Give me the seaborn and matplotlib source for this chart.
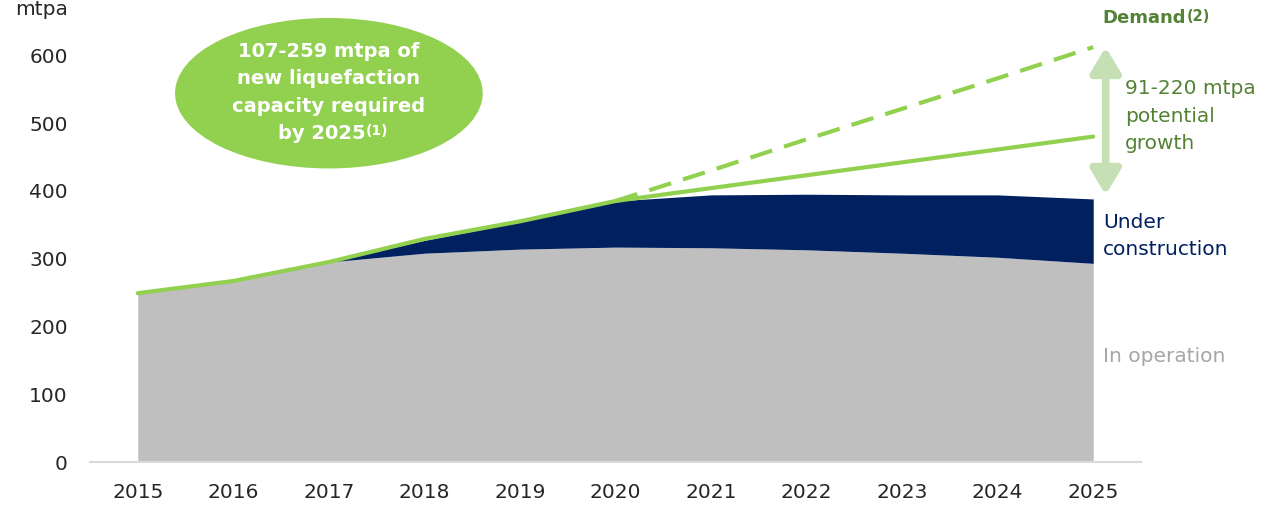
import numpy as np
import pandas as pd
import seaborn as sns
import matplotlib
matplotlib.use("Agg")
import matplotlib.pyplot as plt
from matplotlib.patches import Ellipse

# Global LNG liquefaction capacity vs. demand, mtpa
years = [2015, 2016, 2017, 2018, 2019, 2020, 2021, 2022, 2023, 2024, 2025]
in_operation = [249, 267, 295, 308, 314, 317, 316, 313, 308, 302, 293]
under_construction = [0, 0, 0, 19, 40, 68, 78, 82, 86, 92, 95]
demand_low = [249, 267, 295, 329, 355, 385, 404, 423, 442, 461, 480]
demand_high_years = [2020, 2021, 2022, 2023, 2024, 2025]
demand_high = [385, 430, 476, 521, 566, 612]
y_ticks = [0, 100, 200, 300, 400, 500, 600]

GREEN = "#92d050"
DARK_GREEN = "#548235"
NAVY = "#002060"
GREY = "#bfbfbf"

sns.set_theme(style="white")
plt.rcParams["font.family"] = ["DejaVu Sans"]

fig = plt.figure(figsize=(12.74, 5.09), dpi=100)
ax = fig.add_axes([90 / 1274, 47 / 509, 1051 / 1274, 461 / 509])

df = pd.DataFrame({"year": years, "operation": in_operation,
                   "construction": under_construction, "demand": demand_low})
df["total"] = df["operation"] + df["construction"]
high = pd.DataFrame({"year": demand_high_years, "demand": demand_high})

ax.fill_between(df["year"], 0, df["operation"], color=GREY, lw=0, zorder=1)
ax.fill_between(df["year"], df["operation"], df["total"], color=NAVY, lw=0, zorder=1)

sns.lineplot(data=high, x="year", y="demand", ax=ax, color=GREEN, lw=3,
             linestyle=(0, (5.5, 3)), zorder=3)
sns.lineplot(data=df, x="year", y="demand", ax=ax, color=GREEN, lw=3, zorder=4)

ax.set_xlim(2014.5, 2025.5)
ax.set_ylim(0, 680)
ax.set_xticks(years)
ax.set_yticks(y_ticks)
ax.set_xlabel("")
ax.set_ylabel("")
ax.tick_params(axis="both", length=0, labelsize=14.5, labelcolor="#262626")
ax.tick_params(axis="x", pad=15)
ax.tick_params(axis="y", pad=16)
for s in ["top", "right", "left"]:
    ax.spines[s].set_visible(False)
ax.spines["bottom"].set_color("#d9d9d9")
ax.spines["bottom"].set_linewidth(1.5)

fig.text(68 / 1274, 1.0, "mtpa", fontsize=14.5, color="#262626",
         ha="right", va="top")

# Callout bubble
ax.add_patch(Ellipse((2017.0, 544), 3.22, 222, facecolor=GREEN,
                     edgecolor="none", zorder=5, clip_on=False))
bubble_lines = ["107-259 mtpa of", "new liquefaction", "capacity required"]
for i, line in enumerate(bubble_lines):
    ax.text(2017.0, 605 - 40 * i, line, ha="center", va="center", color="white",
            fontsize=14, fontweight="bold", zorder=6)
last = ax.text(2016.93, 485, "by 2025", ha="center", va="center", color="white",
               fontsize=14, fontweight="bold", zorder=6)
ax.annotate("(1)", xy=(1.0, 1.0), xycoords=last, ha="left", va="top",
            color="white", fontsize=10, fontweight="bold", zorder=6)

# Potential growth range arrow
ax.annotate("", xy=(2025.13, 612), xytext=(2025.13, 394),
            arrowprops=dict(arrowstyle="<|-|>,head_length=0.75,head_width=0.45",
                            color="#c5e0b4", lw=5.5, mutation_scale=20,
                            shrinkA=0, shrinkB=0), annotation_clip=False)

t = ax.text(2025.1, 655, "Demand", color=DARK_GREEN, fontsize=13,
            fontweight="bold", ha="left", va="center")
ax.annotate("(2)", xy=(1, 0.98), xycoords=t, color=DARK_GREEN, fontsize=10.5,
            fontweight="bold", ha="left", va="top")
ax.text(2025.33, 510, "91-220 mtpa\npotential\ngrowth", color=DARK_GREEN,
        fontsize=14.5, ha="left", va="center", linespacing=1.55)
ax.text(2025.1, 333, "Under\nconstruction", color=NAVY, fontsize=14.5,
        ha="left", va="center", linespacing=1.55)
ax.text(2025.1, 155, "In operation", color="#a6a6a6", fontsize=14.5,
        ha="left", va="center")

fig.savefig("out.png", dpi=100)
